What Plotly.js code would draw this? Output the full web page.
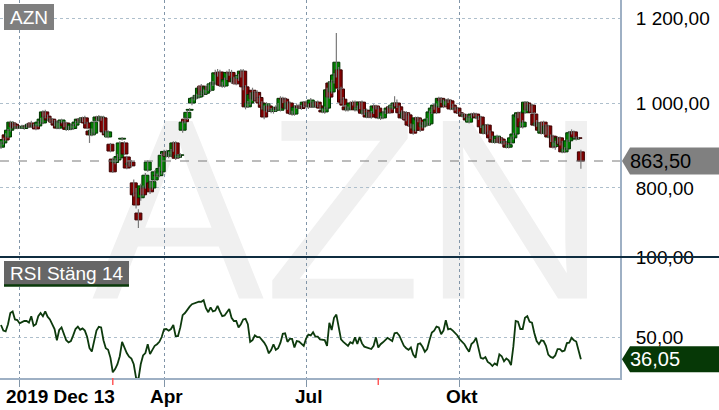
<!DOCTYPE html>
<html><head><meta charset="utf-8">
<script src="https://cdn.plot.ly/plotly-3.0.1.min.js"></script>
<style>html,body{margin:0;padding:0;background:#fff}#chart{width:719px;height:410px}</style>
</head><body><div id="chart"></div>
<script>
const ticker = 'AZN';
const rsiName = 'RSI Stäng 14';
const tickIdx = [8, 70, 131, 197];
const tickLabels = ['2019 Dec 13', 'Apr', 'Jul', 'Okt'];
const eventIdx = [48, 162];
const priceTicks = [800, 1000, 1200];
const priceTickText = ['800,00', '1 000,00', '1 200,00'];
const rsiTicks = [50, 100];
const rsiTickText = ['50,00', '100,00'];

const open = [
896,906,925,920,936,953,950,941,944,942,
940,946,944,953,946,948,946,953,953,979,
969,960,962,957,955,941,955,953,953,938,
939,940,948,955,962,958,965,953,934,925,
929,958,967,962,965,932,920,903,868,860,
866,871,915,906,873,855,861,812,788,741,
777,800,802,842,812,800,819,830,829,838,
880,884,875,878,888,906,872,877,936,962,
965,983,1000,1011,1013,1014,1040,1020,1023,1038,
1030,1045,1047,1071,1073,1042,1040,1058,1072,1072,
1050,1060,1058,1065,1075,1038,991,1000,1030,1010,
1025,1013,1000,990,983,993,983,980,985,990,
983,1011,1009,988,1000,976,974,990,993,990,
995,1002,993,991,1000,991,1002,993,983,979,
988,1047,1026,1050,1066,1078,1033,1009,991,984,
988,1000,1002,984,990,1002,976,983,967,977,
977,993,988,965,965,977,979,991,988,995,
1000,991,979,965,977,972,948,946,936,965,
960,944,953,948,951,977,988,995,991,1011,
1005,995,1007,1005,995,986,988,977,974,969,
972,955,967,974,974,965,967,944,929,948,
932,920,908,908,918,915,906,908,896,906,
918,927,967,977,944,977,1000,984,995,974,
948,953,929,955,929,946,920,922,898,908,
918,908,885,892,911,930,932,915,918,885];
const high = [
910,918,929,939,958,957,953,947,948,949,
949,952,953,958,951,951,958,965,983,984,
973,966,965,960,958,958,963,957,956,946,
953,951,958,965,966,968,970,956,938,940,
958,970,972,970,970,936,936,906,872,870,
880,910,920,910,876,866,866,820,800,750,
810,806,835,865,818,818,842,834,850,882,
890,890,885,892,910,910,880,882,958,966,
982,988,1015,1018,1022,1040,1045,1032,1042,1044,
1050,1052,1078,1080,1078,1050,1060,1076,1080,1078,
1062,1064,1068,1080,1080,1042,1005,1025,1036,1028,
1030,1018,1004,994,1002,998,988,990,995,1000,
1016,1015,1013,1004,1004,982,994,998,998,996,
1005,1006,998,1012,1004,1004,1006,997,987,992,
1036,1052,1055,1070,1165,1085,1038,1014,996,992,
1004,1006,1006,994,1004,1006,986,987,980,981,
997,996,992,970,981,984,992,995,998,1016,
1008,994,983,980,981,976,952,950,968,968,
963,956,957,965,982,992,999,999,1015,1014,
1008,1010,1012,1008,998,992,991,980,977,975,
975,970,977,978,977,970,970,947,950,951,
935,923,915,925,921,918,912,911,905,921,
930,975,980,980,960,1005,1004,998,998,978,
960,956,956,958,950,949,926,925,911,922,
921,911,896,914,934,938,935,921,920,890];
const low = [
892,902,910,917,933,940,938,938,939,939,
937,942,941,941,942,936,943,950,950,964,
957,955,952,945,938,938,952,943,934,935,
936,937,945,952,955,955,950,938,906,922,
926,955,958,958,928,920,917,884,835,856,
862,868,912,877,844,850,848,780,752,706,
770,780,798,838,786,796,815,826,825,832,
875,872,870,875,885,866,868,872,930,952,
960,980,995,1006,1008,1010,1016,1015,1020,1028,
1026,1040,1044,1062,1038,1036,1036,1054,1064,1045,
1045,1042,1052,1060,1030,985,988,996,1005,1006,
1002,996,985,962,978,980,976,975,980,984,
980,1000,985,984,972,970,970,986,986,984,
990,990,986,988,988,988,990,984,976,975,
985,1010,1022,1046,1060,1030,998,992,980,980,
984,994,980,980,986,972,972,964,964,963,
974,985,962,960,962,974,976,974,984,992,
988,974,962,962,957,945,940,925,932,955,
932,940,944,945,948,974,984,974,988,1000,
988,992,1000,983,983,982,974,973,966,965,
957,952,964,968,962,960,941,926,926,926,
915,905,904,905,905,903,902,893,893,903,
914,924,964,941,940,974,981,980,974,945,
944,933,926,926,925,917,908,893,890,904,
900,882,882,889,908,926,917,912,915,845];
const close = [
906,914,913,936,955,944,941,944,942,944,
946,944,950,944,948,939,955,962,979,967,
960,962,955,948,941,955,960,946,938,943,
950,948,955,962,958,965,953,941,925,936,
955,967,962,967,932,925,932,887,838,866,
874,906,917,880,847,858,852,784,760,725,
805,784,830,861,791,815,838,829,846,877,
886,875,881,888,906,870,877,878,955,956,
978,985,1011,1013,1018,1035,1020,1028,1038,1032,
1045,1048,1071,1068,1042,1040,1055,1072,1070,1050,
1058,1045,1065,1075,1038,991,1000,1020,1010,1025,
1005,1000,990,967,998,983,980,985,990,986,
1011,1009,988,1000,976,974,990,993,990,987,
1002,993,991,1007,991,1002,993,988,979,988,
1031,1014,1050,1066,1096,1035,1002,995,984,988,
1000,998,984,990,1002,976,983,967,977,967,
993,988,965,966,977,979,988,977,995,1000,
991,977,965,977,960,948,946,929,965,960,
936,953,948,962,979,988,995,977,1011,1005,
991,1007,1005,986,986,988,977,976,969,972,
960,967,974,972,965,967,944,929,948,929,
918,908,912,922,908,906,909,896,902,918,
927,972,977,944,955,1002,984,995,977,948,
953,936,953,929,946,920,922,896,908,918,
903,885,892,911,930,932,920,918,917,863.5];
const rsi = [
57.5,54,53.5,58,65,66,61,60.6,58.5,59.5,
60,60,59,63,57,58,63,65,63,66,
62.7,61,58,55,48,54.4,56,52,48,46.6,
47.5,51,55,56.5,54.5,55.4,54,50,43,41,
48,54,56.4,56,48,43,42,37,28,30,
33,38,47,43,40,37.7,36.5,33,24.5,23.5,
33,38.5,40,45.5,39.3,42,44.5,45.5,47,50,
54.8,55,54,55,57.5,50.6,50.6,56,63.7,65,
67.3,69,70.5,71,71.5,72.1,72,73,68,65.5,
68.5,66,66.5,69.5,66,63,63.5,65.8,67.5,62,
60,60,56,58,61,61.4,58,47,48,51,
50,50,48.3,46.5,44,39.8,41.9,45.5,42,43,
46.5,52,52.3,47,48.8,48.8,43.5,47.5,47.2,46,
44.5,49,51.5,51,53,50.2,50.2,48.5,48.1,48.1,
44.5,58.9,54.4,62,64,55,48.5,47,45.5,44.5,
46.8,46,49.8,45.6,50,46,44,43.5,43,42.5,
44.5,49.8,43.5,45.5,46.7,48,49.5,48.5,47.5,52.3,
52.7,51,47.5,44.5,43,42,43.5,39,37,45.5,
46,43.9,40.8,42.5,48,52.8,54,56.5,56,51.8,
54,60.5,54.8,55.2,54,52.5,51,48.5,47.3,45.5,
43,40.8,45.6,47,49.5,44,37,36.5,37.5,34.4,
33.5,31.9,33.5,32.5,39.2,38,34.8,36.6,35.4,32.5,
44,60,59.6,55,55,62,63,59.5,59,52.5,
47.5,45.5,48,47.5,44.5,39,37.6,37,38.5,42.5,
42.5,41,41.5,46.2,46.5,49.5,48,47.2,42,36.05];

const idx = close.map((_, i) => i);
const fmt = v => v.toFixed(2).replace('.', ',');
const lastPrice = close[close.length - 1];
const lastRsi = rsi[rsi.length - 1];

const W = 719, H = 410, ML = 0, MR = 99, MT = 0, MB = 32;
const PW = W - ML - MR, PH = H - MT - MB;
const split = (PH - 257) / PH;
const px = p => p / PW;
const py = p => (PH - p) / PH;

const wx = [], wy = [];
idx.forEach(i => { wx.push(i, i, null); wy.push(low[i], high[i], null); });
const up = idx.map(i => close[i] >= open[i]);

const traces = [
  { type: 'scatter', mode: 'lines', x: wx, y: wy, xaxis: 'x', yaxis: 'y',
    line: { color: '#7a7a7a', width: 1.2 }, hoverinfo: 'skip', connectgaps: false },
  { type: 'bar', x: idx, base: idx.map(i => Math.min(open[i], close[i])),
    y: idx.map(i => Math.max(Math.abs(close[i] - open[i]), 0.8)), width: 3.0,
    xaxis: 'x', yaxis: 'y',
    marker: { color: up.map(u => u ? '#008000' : '#800000'),
              line: { color: up.map(u => u ? '#003300' : '#3a0000'), width: 1 } },
    hoverinfo: 'skip' },
  { type: 'scatter', mode: 'lines', x: idx, y: rsi, xaxis: 'x', yaxis: 'y2',
    line: { color: '#0d3a0d', width: 1.8 }, hoverinfo: 'skip' }
];

const gridX = '#8195a8', gridY = '#aebfcc', frame = '#9eb0c4';
const tickFontX = { family: 'Liberation Sans, Arial, sans-serif', size: 19, color: '#000', weight: 700 };
const tickFontY = { family: 'Liberation Sans, Arial, sans-serif', size: 19, color: '#000' };

const shapes = [
  { type: 'rect', xref: 'paper', yref: 'paper', x0: px(100), x1: px(600), y0: py(280), y1: py(90),
    layer: 'below', line: { width: 0 }, fillcolor: 'rgba(0,0,0,0)',
    label: { text: ticker, font: { family: 'Liberation Sans, Arial', size: 258, color: '#f0f0f0' },
             textposition: 'middle center' } },
  { type: 'line', xref: 'paper', yref: 'y', x0: 0, x1: 1, y0: lastPrice, y1: lastPrice,
    line: { color: '#7a7a7a', width: 1, dash: 'dash' } },
  { type: 'line', xref: 'paper', yref: 'paper', x0: 0, x1: W / PW, y0: split, y1: split,
    line: { color: '#0f2d40', width: 2 } },
  { type: 'path', xref: 'paper', xsizemode: 'pixel', xanchor: 1, yref: 'y', ysizemode: 'pixel', yanchor: lastPrice,
    path: 'M2,0 L10,13.5 L99,13.5 L99,-13.5 L10,-13.5 Z', fillcolor: '#808080', line: { width: 0 } },
  { type: 'path', xref: 'paper', xsizemode: 'pixel', xanchor: 1, yref: 'y2', ysizemode: 'pixel', yanchor: lastRsi,
    path: 'M2,0 L10,13 L99,13 L99,-13 L10,-13 Z', fillcolor: '#063806', line: { width: 0 } },
  { type: 'rect', xref: 'paper', yref: 'paper', x0: px(4), x1: px(54), y0: py(30), y1: py(4),
    fillcolor: '#7f7f7f', line: { width: 0 } },
  { type: 'rect', xref: 'paper', yref: 'paper', x0: px(4), x1: px(129), y0: py(285), y1: py(261),
    fillcolor: '#666666', line: { width: 0 } },
  { type: 'line', xref: 'paper', yref: 'paper', x0: px(4), x1: px(129), y0: py(285.5), y1: py(285.5),
    line: { color: '#0a3a0a', width: 2.5 } }
];
eventIdx.forEach(e => shapes.push({ type: 'line', xref: 'x', yref: 'paper', x0: e, x1: e,
  y0: 0, y1: -7 / PH, line: { color: '#ff5a5a', width: 1.5 } }));

const annotations = [
  { xref: 'paper', yref: 'paper', x: px(29), y: py(17), text: ticker, showarrow: false,
    xanchor: 'center', yanchor: 'middle', font: { family: 'Liberation Sans, Arial', size: 19, color: '#fff' } },
  { xref: 'paper', yref: 'paper', x: px(66.5), y: py(273), text: rsiName, showarrow: false,
    xanchor: 'center', yanchor: 'middle', font: { family: 'Liberation Sans, Arial', size: 19, color: '#fff' } },
  { xref: 'paper', yref: 'y', x: 1, y: lastPrice, xanchor: 'left', xshift: 8, text: fmt(lastPrice),
    showarrow: false, font: { family: 'Liberation Sans, Arial', size: 20, color: '#000' } },
  { xref: 'paper', yref: 'y2', x: 1, y: lastRsi, xanchor: 'left', xshift: 8, text: fmt(lastRsi),
    showarrow: false, font: { family: 'Liberation Sans, Arial', size: 20, color: '#fff' } }
];
tickIdx.forEach((t, k) => annotations.push({ xref: 'x', yref: 'paper', x: t, y: py(396.5),
  xanchor: k === 0 ? 'left' : 'center', yanchor: 'middle', xshift: k === 0 ? -16 : 2,
  text: tickLabels[k], showarrow: false, font: tickFontX }));

const layout = {
  width: W, height: H, margin: { l: ML, r: MR, t: MT, b: MB },
  paper_bgcolor: '#fff', plot_bgcolor: '#fff', showlegend: false, barmode: 'overlay',
  xaxis: { range: [-0.43, 265.8], anchor: 'y2', tickvals: tickIdx, showticklabels: false,
    ticks: 'outside', ticklen: 7, tickcolor: gridX, showgrid: true, gridcolor: gridX, griddash: 'dot',
    showline: true, linecolor: frame, linewidth: 2, zeroline: false, fixedrange: true },
  yaxis: { domain: [split, 1], range: [637.6, 1242.4], side: 'right', anchor: 'x',
    tickvals: priceTicks, ticktext: priceTickText, tickfont: tickFontY, ticks: 'outside', ticklen: 10,
    tickcolor: 'rgba(0,0,0,0)', showgrid: true, gridcolor: gridY, griddash: 'dot',
    showline: true, linecolor: frame, linewidth: 2, zeroline: false, fixedrange: true },
  yaxis2: { domain: [0, split], range: [24.4, 100], side: 'right', anchor: 'x',
    tickvals: rsiTicks, ticktext: rsiTickText, tickfont: tickFontY, ticks: 'outside', ticklen: 10,
    tickcolor: 'rgba(0,0,0,0)', showgrid: true, gridcolor: gridY, griddash: 'dot',
    showline: true, linecolor: frame, linewidth: 2, zeroline: false, fixedrange: true },
  shapes: shapes, annotations: annotations
};

Plotly.newPlot('chart', traces, layout, { staticPlot: true, displayModeBar: false });
</script></body></html>
